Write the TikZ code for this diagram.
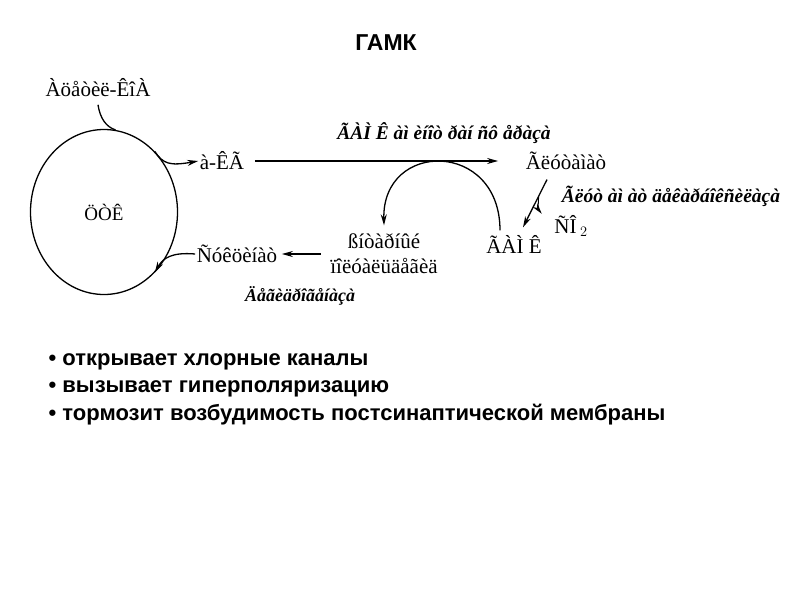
\documentclass[tikz,border=0pt]{standalone}
\usepackage{fontspec}
\setmainfont{Liberation Serif}
\newfontfamily\slidefont{Liberation Sans}
\usetikzlibrary{arrows.meta,positioning,shapes.geometric}

\begin{document}
\begin{tikzpicture}[>={Stealth[length=11pt,width=6pt]},x=1pt,y=-1pt,line width=1.3pt]
\tikzset{lbl/.style={inner sep=1pt,font=\fontsize{21}{25}\selectfont,align=center},
  enzyme/.style={inner sep=1pt,font=\fontsize{18}{21}\selectfont\bfseries\itshape},
  wideenz/.style={font=\fontsize{19.5}{22}\selectfont\bfseries\itshape},
  point/.style={anchor=west,inner sep=0pt,font=\slidefont\bfseries\fontsize{22}{24}\selectfont}}
\useasboundingbox (0,0) rectangle (800,600);
% title
\node[font=\slidefont\bfseries\fontsize{23}{25}\selectfont] (title) at (386,43) {ГАМК};
% cycle and metabolites
\node[draw,ellipse,minimum width=147,minimum height=165,inner sep=0pt,font=\fontsize{19}{21}\selectfont] (tca) at (104,212) {ÖÒÊ};
\node[lbl] (acoa) at (98,88) {Àöåòèë-ÊîÀ};
\node[lbl] (akg) at (222,161) {à-ÊÃ};
\node[lbl] (glu) at (566,161) {Ãëóòàìàò};
\node[lbl] (gaba) at (514,244) {ÃÀÌ Ê};
\node[lbl] (co2) at (571,226) {ÑÎ\,$_{2}$};
\node[lbl] (ssa) at (384,254) {ßíòàðíûé\\ïîëóàëüäåãèä};
\node[lbl] (succ) at (237,254) {Ñóêöèíàò};
% enzymes
\node[enzyme,wideenz] (gabat) at (444,133) {ÃÀÌ Ê àì èíîò ðàí ñô åðàçà};
\node[enzyme,wideenz] (gad) at (671,196) {Ãëóò àì àò äåêàðáîêñèëàçà};
\node[enzyme] (sdh) at (300,296) {Äåãèäðîãåíàçà};
% arrows
\draw ([yshift=-6pt]acoa.south) .. controls (100,118) and (106,127) .. (tca.82);
\draw[->] (tca.50) .. controls (163,164) and (170,166) .. (akg.west);
\draw[->,shorten <=9pt,shorten >=26pt] (akg.east) -- (glu.west);
\draw[->] ([xshift=-19pt,yshift=-8pt]glu.south) -- coordinate[pos=0.35] (co2src) ([xshift=9pt,yshift=6pt]gaba.north);
\draw[->,line width=1pt] (co2src) .. controls (538,209) .. ([xshift=-11pt]co2.north west);
\draw[->] ([xshift=-14pt,yshift=3pt]gaba.north) .. controls (500,140) and (382,140) .. ([yshift=7pt]ssa.north);
\draw[->,shorten <=8pt,shorten >=3pt] (ssa.west) -- (succ.east);
\draw[->] (succ.west) .. controls (172,252) and (163,258) .. (tca.-50);
% properties
\node[point] (b1) at (48,362) {• открывает хлорные каналы};
\node[point] (b2) at (48,389) {• вызывает гиперполяризацию};
\node[point] (b3) at (48,415) {• тормозит возбудимость постсинаптической мембраны};
\end{tikzpicture}
\end{document}
